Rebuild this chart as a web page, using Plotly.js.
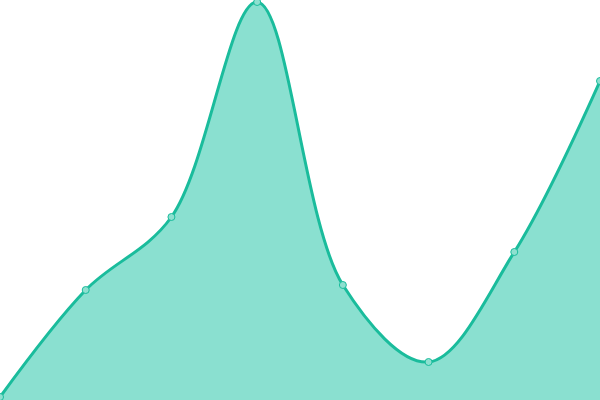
<!DOCTYPE html>
<html><head><meta charset="utf-8">
<script src="https://cdn.plot.ly/plotly-3.0.1.min.js"></script>
<style>html,body{margin:0;padding:0;background:#fff}#chart{width:600px;height:400px}</style>
</head><body><div id="chart"></div>
<script>
var categories = [0, 1, 2, 3, 4, 5, 6, 7];
var values = [3, 110, 183, 398, 115, 38, 148, 319];

var trace = {
  x: categories,
  y: values,
  type: 'scatter',
  mode: 'lines+markers',
  fill: 'tozeroy',
  fillcolor: '#8ae0d0',
  line: {shape: 'spline', smoothing: 1, color: '#1abc9c', width: 3},
  marker: {size: 7, color: '#8ee0d0', line: {color: '#1abc9c', width: 1}},
  cliponaxis: false,
  hoverinfo: 'none'
};

var layout = {
  width: 600, height: 400,
  margin: {l: 0, r: 0, t: 0, b: 0},
  paper_bgcolor: '#fff', plot_bgcolor: '#fff',
  showlegend: false,
  xaxis: {range: [0, 7], visible: false, fixedrange: true},
  yaxis: {range: [0, 400], visible: false, fixedrange: true}
};

Plotly.newPlot('chart', [trace], layout, {displayModeBar: false, staticPlot: true});
</script>
</body></html>
